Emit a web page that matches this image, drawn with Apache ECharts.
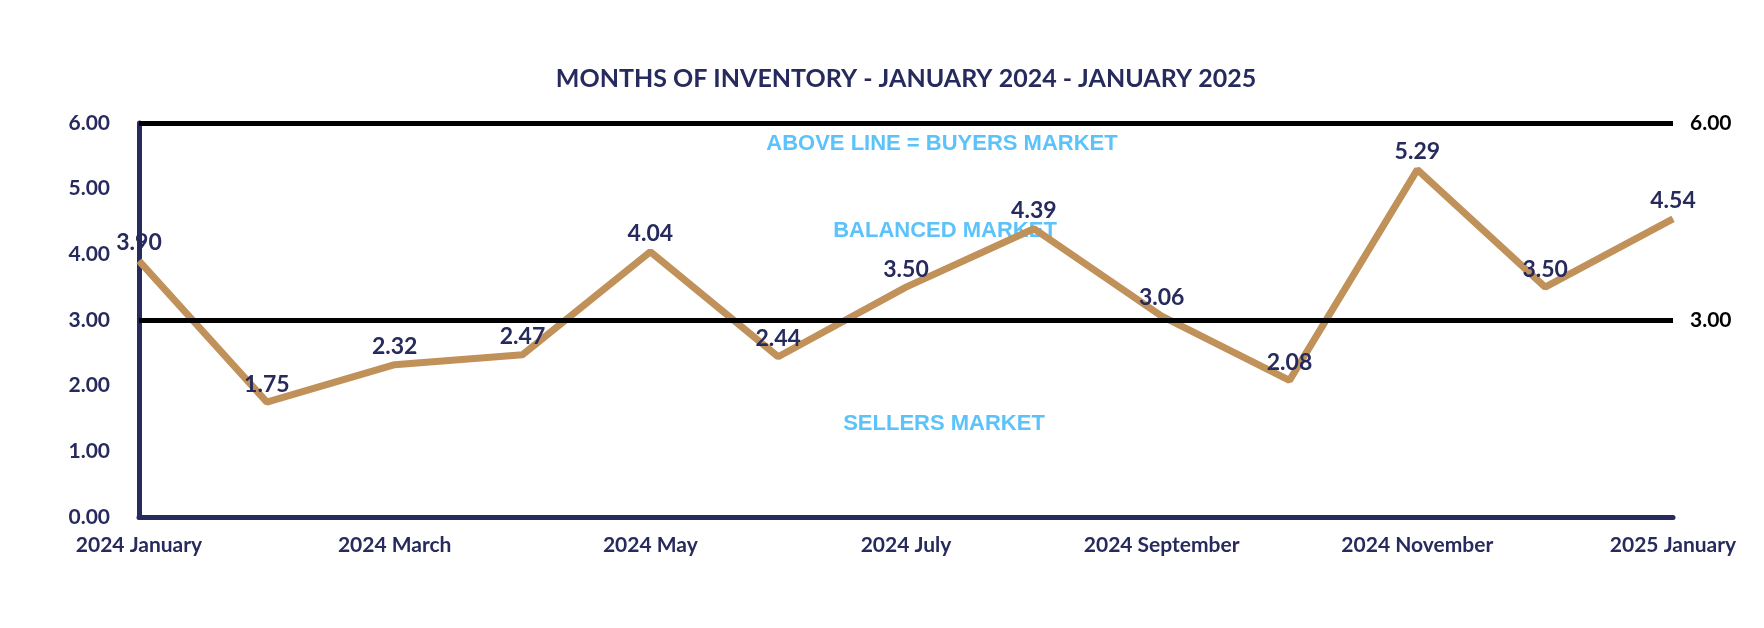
<!DOCTYPE html>
<html>
<head>
<meta charset="utf-8">
<script src="https://cdn.jsdelivr.net/npm/echarts@6/dist/echarts.min.js"></script>
<style>html,body{margin:0;padding:0;background:#fff}#c{width:1764px;height:628px}</style>
</head>
<body>
<div id="c"></div>
<script>
const categories = ['2024 January','2024 February','2024 March','2024 April','2024 May','2024 June','2024 July','2024 August','2024 September','2024 October','2024 November','2024 December','2025 January'];
const inventory = [3.90, 1.75, 2.32, 2.47, 4.04, 2.44, 3.50, 4.39, 3.06, 2.08, 5.29, 3.50, 4.54];
const thresholds = [3, 6];
const titleText = 'MONTHS OF INVENTORY - JANUARY 2024 - JANUARY 2025';
const zoneLabels = ['ABOVE LINE = BUYERS MARKET', 'BALANCED MARKET', 'SELLERS MARKET'];

const NAVY = '#262a5c';
const TAN = '#c09158';
const BLUE = '#5cc2fa';
const FONT = 'Lato';

const chart = echarts.init(document.getElementById('c'));
chart.setOption({
  animation: false,
  backgroundColor: '#fff',
  grid: { left: 139, right: 91, top: 123, bottom: 111 },
  graphic: [
    { type: 'text', x: 906, y: 79, style: { text: titleText, fill: NAVY, font: 'bold 25px ' + FONT, textAlign: 'center', textVerticalAlign: 'middle' } },
    { type: 'text', x: 942, y: 144, style: { text: zoneLabels[0], fill: BLUE, font: 'bold 22px "Liberation Sans"', textAlign: 'center', textVerticalAlign: 'middle' } },
    { type: 'text', x: 945, y: 231, style: { text: zoneLabels[1], fill: BLUE, font: 'bold 22px "Liberation Sans"', textAlign: 'center', textVerticalAlign: 'middle' } },
    { type: 'text', x: 944, y: 424, style: { text: zoneLabels[2], fill: BLUE, font: 'bold 22px "Liberation Sans"', textAlign: 'center', textVerticalAlign: 'middle' } }
  ],
  xAxis: {
    type: 'category',
    data: categories,
    boundaryGap: false,
    axisLine: { show: true, lineStyle: { color: NAVY, width: 5 } },
    axisTick: { show: false },
    axisLabel: { interval: 1, color: NAVY, fontFamily: FONT, fontWeight: 'bold', fontSize: 21, margin: 18 }
  },
  yAxis: {
    type: 'value',
    min: 0, max: 6, interval: 1,
    axisLine: { show: true, lineStyle: { color: NAVY, width: 5 } },
    axisTick: { show: false },
    splitLine: { show: false },
    axisLabel: { color: NAVY, fontFamily: FONT, fontWeight: 'bold', fontSize: 21, margin: 29, formatter: v => v.toFixed(2) }
  },
  series: [{
    type: 'line',
    data: inventory,
    symbol: 'circle',
    symbolSize: 1,
    itemStyle: { color: TAN },
    lineStyle: { color: TAN, width: 7 },
    label: { show: true, position: 'top', distance: 6, color: NAVY, fontFamily: FONT, fontWeight: 'bold', fontSize: 23, formatter: p => p.value.toFixed(2) },
    markLine: {
      silent: true,
      symbol: 'none',
      lineStyle: { color: '#000', width: 5, type: 'solid' },
      label: { show: true, position: 'end', distance: 17, color: '#000', fontFamily: FONT, fontWeight: 'bold', fontSize: 21, formatter: p => p.value.toFixed(2) },
      data: thresholds.map(t => ({ yAxis: t }))
    }
  }]
});
</script>
</body>
</html>
